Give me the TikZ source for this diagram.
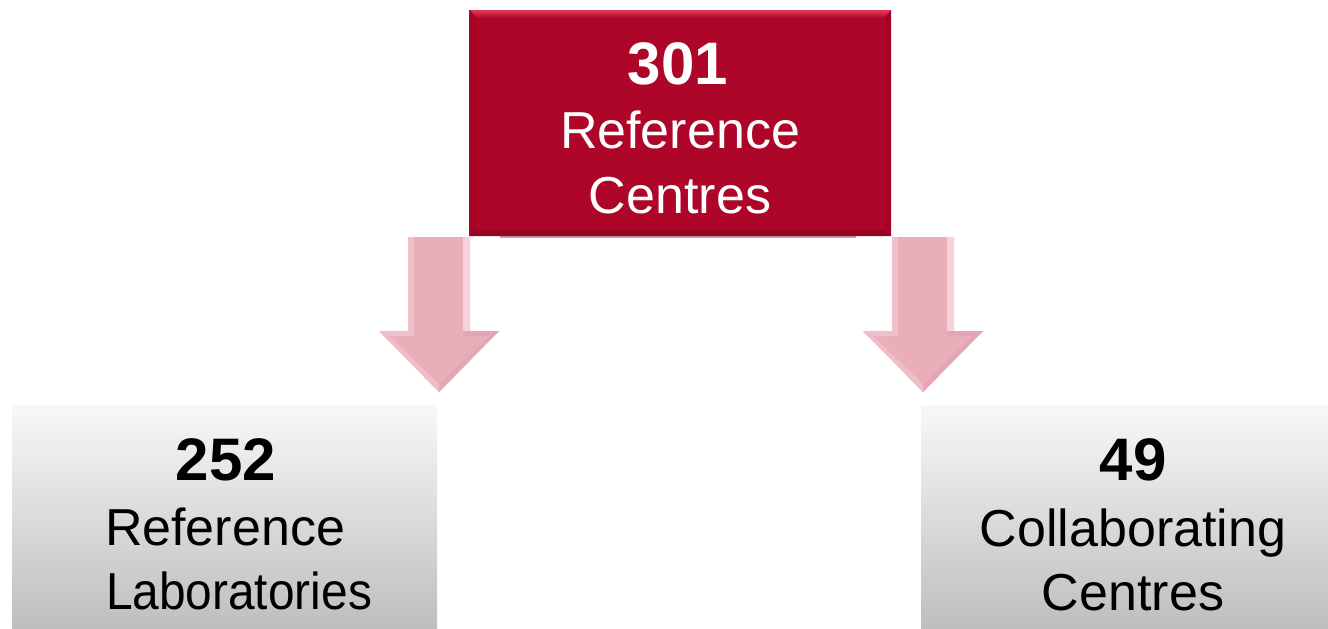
\documentclass[tikz,border=0pt]{standalone}
\usepackage{fontspec}
\setmainfont{Liberation Sans}
\definecolor{topred}{HTML}{AE0628}
\definecolor{toplight}{HTML}{E23A58}
\definecolor{topdark}{HTML}{8C0420}
\definecolor{pinkfill}{HTML}{E8AEB9}
\definecolor{pinklight}{HTML}{F6D3DA}
\definecolor{pinkdark}{HTML}{D994A2}
\definecolor{graytop}{HTML}{F8F8F8}
\definecolor{graybot}{HTML}{BEBEBE}
\tikzset{
  topbox/.style={fill=topred, draw=none, inner sep=0pt},
  graybox/.style={top color=graytop, bottom color=graybot, draw=none, inner sep=0pt},
  numtxt/.style={anchor=base, font=\fontsize{60}{60}\selectfont\bfseries, inner sep=0pt},
  wordtxt/.style={anchor=base, font=\fontsize{52}{52}\selectfont, inner sep=0pt},
  blockarrow/.style={fill=pinkfill, draw=none},
}
\begin{document}
\begin{tikzpicture}[x=1pt,y=-1pt]
\useasboundingbox (0,0) rectangle (1328,629);
% bottom boxes
\path[graybox] (12,405) rectangle (437,629);
\node[inner sep=0pt, minimum size=0pt] (lbox) at (224.5,517) {};
\path[graybox] (921,405) rectangle (1340,629);
\node[inner sep=0pt, minimum size=0pt] (rbox) at (1130,517) {};
% arrows
\foreach \cx/\nm in {439/la, 923/ra}{
  \coordinate (\nm) at (\cx,237);
  \path[blockarrow] (\cx-31,237) -- (\cx+31,237) -- (\cx+31,331) -- (\cx+60,331)
     -- (\cx,392) -- (\cx-60,331) -- (\cx-31,331) -- cycle;
  % bevel highlights
  \path[fill=pinklight] (\cx+24,237) -- (\cx+31,237) -- (\cx+31,331) -- (\cx+24,336) -- cycle;
  \path[fill=pinklight!50!pinkfill] (\cx-31,237) -- (\cx-25,237) -- (\cx-25,336) -- (\cx-31,331) -- cycle;
  \path[fill=pinklight!50!pinkfill] (\cx-60,331) -- (\cx-25,331) -- (\cx-25,336) -- (\cx-50,336) -- cycle;
  \path[fill=pinkdark!30!pinkfill] (\cx+24,331) -- (\cx+60,331) -- (\cx+50,336) -- (\cx+24,336) -- cycle;
  \path[fill=pinkdark!30!pinkfill] (\cx+50,336) -- (\cx+60,331) -- (\cx,392) -- (\cx,384) -- cycle;
  \path[fill=pinklight!40!pinkfill] (\cx-50,336) -- (\cx-60,331) -- (\cx,392) -- (\cx,384) -- cycle;
}
% top box
\path[fill=topdark!40!white] (500,234) rectangle (856,238);
\node[topbox, minimum width=422pt, minimum height=226pt] (top) at (680,123) {};
\path[top color=toplight, bottom color=topred] (470,10) -- (891,10) -- (885,18) -- (476,18) -- cycle;
\path[fill=topdark!30!topred] (470,10) -- (476,18) -- (476,230) -- (470,236) -- cycle;
\path[fill=topdark!30!topred] (891,10) -- (885,18) -- (885,230) -- (891,236) -- cycle;
\path[fill=topdark!70!topred] (470,236) -- (476,230) -- (885,230) -- (891,236) -- cycle;
% texts
\node[numtxt, text=white] (t1) at (678,84) {301};
\node[wordtxt, text=white] (t2) at (680,148) {Reference};
\node[wordtxt, text=white] (t3) at (680,213) {Centres};
\node[numtxt] (l1) at (226,480) {252};
\node[wordtxt] (l2) at (225,545) {Reference};
\node[wordtxt, xscale=0.92] (l3) at (239,609) {Laboratories};
\node[numtxt] (r1) at (1133,480) {49};
\node[wordtxt] (r2) at (1133,546) {Collaborating};
\node[wordtxt] (r3) at (1133,610) {Centres};
\end{tikzpicture}
\end{document}
